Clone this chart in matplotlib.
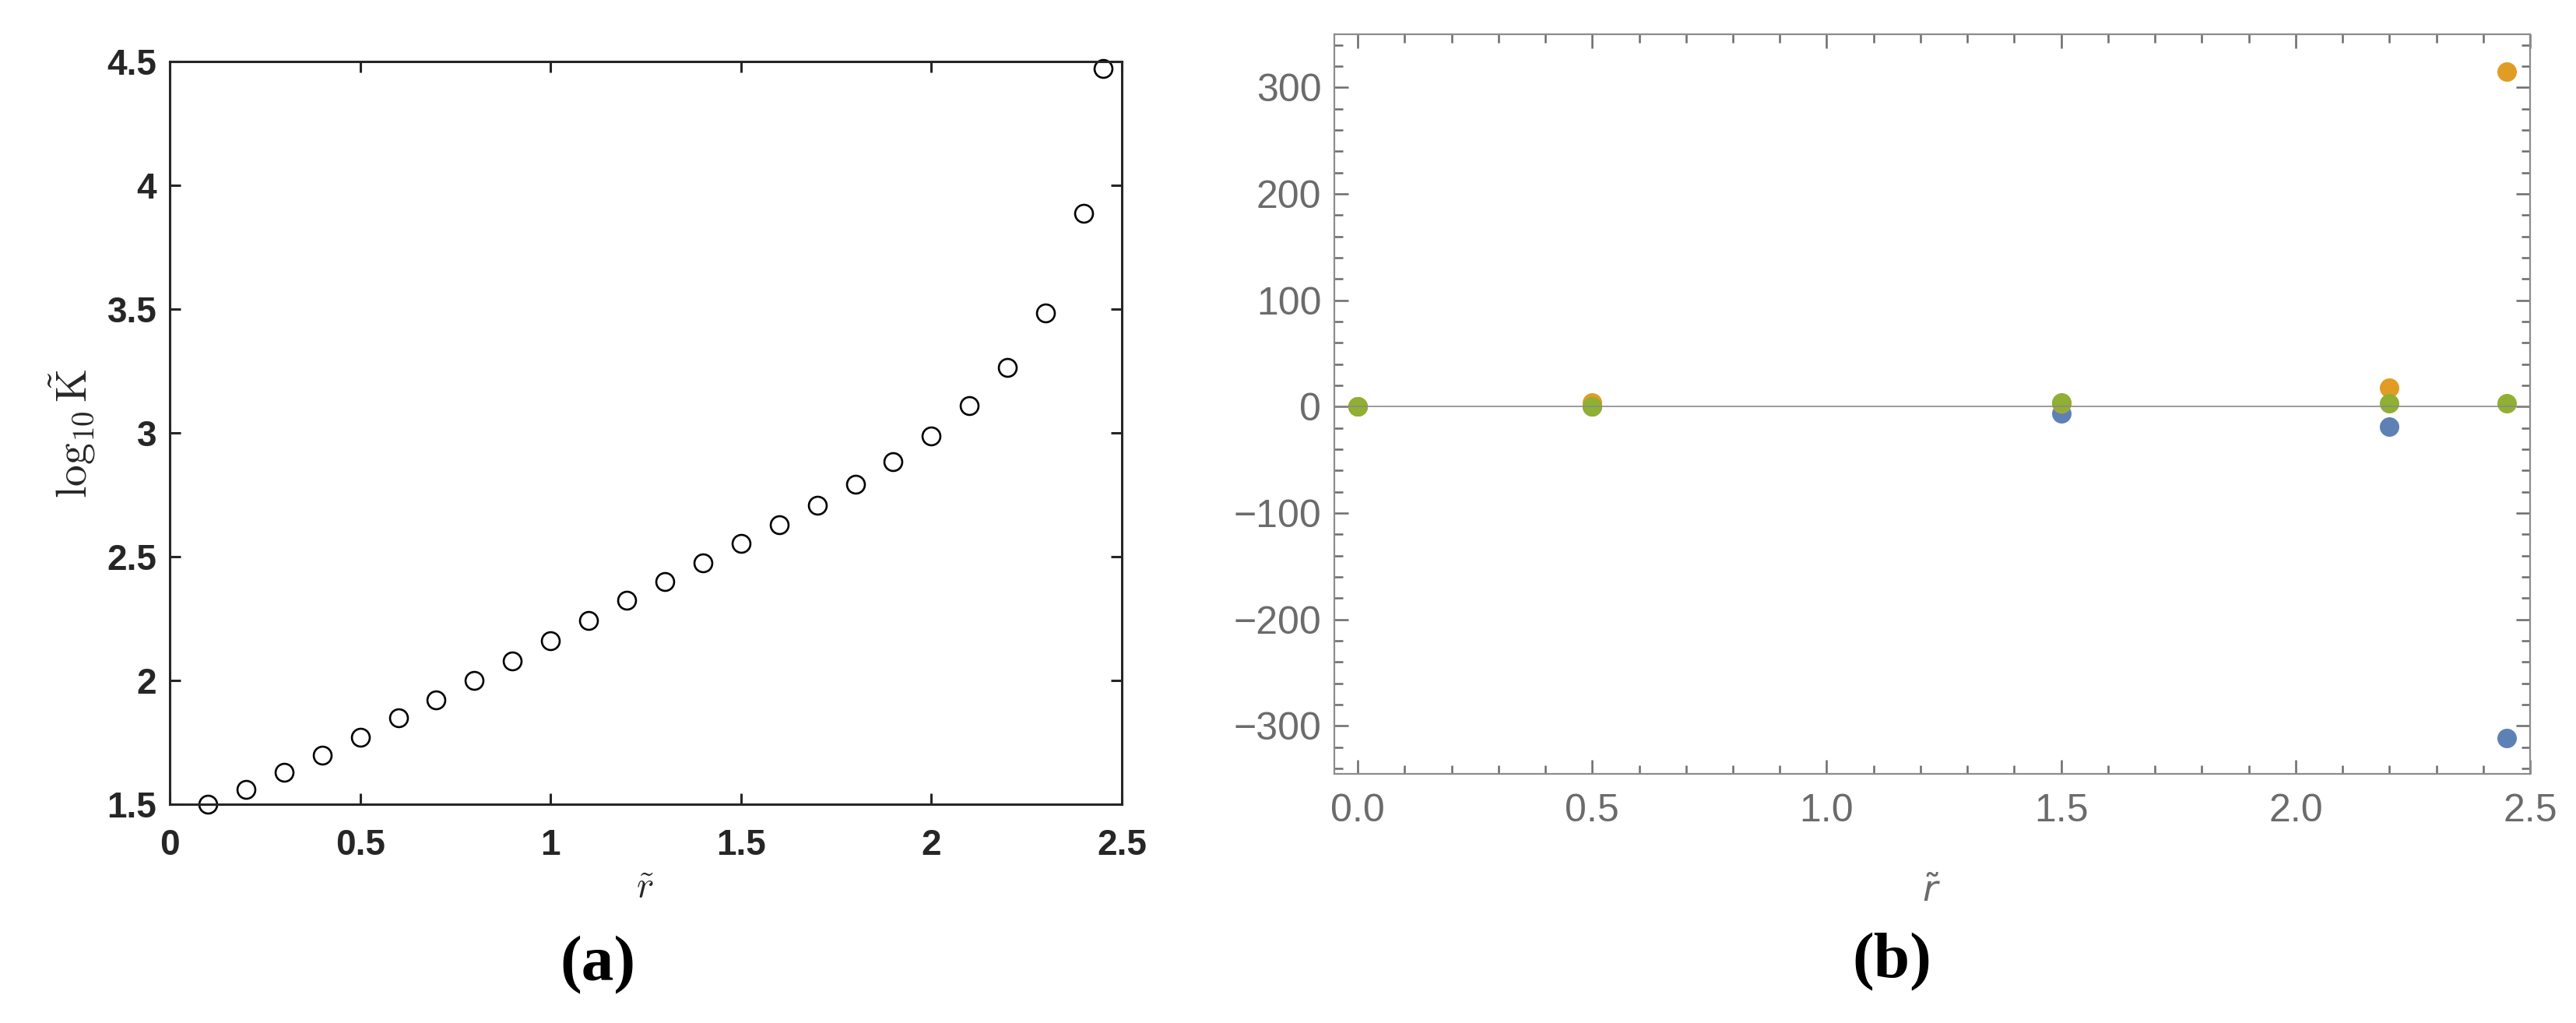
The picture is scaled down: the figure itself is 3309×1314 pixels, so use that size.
import numpy as np
import matplotlib
matplotlib.use("Agg")
import matplotlib.pyplot as plt
from matplotlib.ticker import MultipleLocator, FixedLocator

# (a) log10 K vs r
r_a = [0.1, 0.2, 0.3, 0.4, 0.5, 0.6, 0.7, 0.8, 0.9, 1.0, 1.1, 1.2, 1.3,
       1.4, 1.5, 1.6, 1.7, 1.8, 1.9, 2.0, 2.1, 2.2, 2.3, 2.4, 2.45]
logK = [1.500, 1.561, 1.629, 1.698, 1.769, 1.848, 1.922, 1.999, 2.080,
        2.160, 2.241, 2.323, 2.400, 2.476, 2.553, 2.629, 2.708, 2.793,
        2.885, 2.988, 3.109, 3.265, 3.484, 3.888, 4.471]

# (b) three series at a few r values
r_b = [0.0, 0.5, 1.5, 2.2, 2.45]
blue = [0.0, 0.0, -6.0, -18.5, -311.0]
orange = [0.0, 3.7, 3.0, 18.0, 315.0]
green = [0.0, 0.0, 3.7, 3.4, 3.4]

a_xticks = [0, 0.5, 1, 1.5, 2, 2.5]
a_xlabels = ["0", "0.5", "1", "1.5", "2", "2.5"]
a_yticks = [1.5, 2, 2.5, 3, 3.5, 4, 4.5]
a_ylabels = ["1.5", "2", "2.5", "3", "3.5", "4", "4.5"]
b_xticks = [0.0, 0.5, 1.0, 1.5, 2.0, 2.5]
b_xlabels = ["0.0", "0.5", "1.0", "1.5", "2.0", "2.5"]
b_yticks = [-300, -200, -100, 0, 100, 200, 300]
b_ylabels = ["\u2212300", "\u2212200", "\u2212100", "0", "100", "200", "300"]

W, H = 3309, 1314
fig = plt.figure(figsize=(W / 100, H / 100), dpi=100)

def box(l, r, t, b):
    return [l / W, 1 - b / H, (r - l) / W, (b - t) / H]

# ---- panel (a), matlab look
ax1 = fig.add_axes(box(218, 1441, 79, 1033))
ax1.plot(r_a, logK, 'o', mfc='none', mec='black', ms=16.5, mew=1.9, clip_on=False)
ax1.set_xlim(0, 2.5)
ax1.set_ylim(1.5, 4.5)
ax1.set_xticks(a_xticks)
ax1.set_xticklabels(a_xlabels)
ax1.set_yticks(a_yticks)
ax1.set_yticklabels(a_ylabels)
dark = '#262626'
for s in ax1.spines.values():
    s.set_linewidth(2.2)
    s.set_color(dark)
ax1.tick_params(direction='in', length=10, width=2.2, color=dark,
                top=True, right=True, labelcolor=dark)
ax1.tick_params(axis='x', pad=22)
ax1.tick_params(axis='y', pad=12)
for lab in ax1.get_xticklabels() + ax1.get_yticklabels():
    lab.set_fontfamily(['Liberation Sans', 'DejaVu Sans'])
    lab.set_fontweight('bold')
    lab.set_fontsize(33)
fig.text(829 / W, 1 - 1140 / H, r'$\tilde{r}$', fontsize=34, math_fontfamily='cm',
         ha='center', va='center', color=dark)
fig.text(93 / W, 1 - 557 / H, r'$\log_{10}\tilde{\mathrm{K}}$', fontsize=40,
         math_fontfamily='cm', rotation=90, ha='center', va='center', color=dark)

# ---- panel (b), mathematica look
gray = '#6b6b6b'
ax2 = fig.add_axes(box(1714, 3250, 44, 994))
ax2.axhline(0, color='#8a8a8a', lw=1.2, zorder=5)
ax2.plot(r_b, blue, 'o', color='#5E81B5', ms=18, mew=0, zorder=3, clip_on=False)
ax2.plot(r_b, orange, 'o', color='#E19C24', ms=18, mew=0, zorder=3, clip_on=False)
ax2.plot(r_b, green, 'o', color='#8FB032', ms=18, mew=0, zorder=4, clip_on=False)
ax2.set_xlim(-0.05, 2.5)
ax2.set_ylim(-345, 350)
ax2.xaxis.set_major_locator(FixedLocator(b_xticks))
ax2.set_xticklabels(b_xlabels)
ax2.xaxis.set_minor_locator(MultipleLocator(0.1))
ax2.yaxis.set_major_locator(FixedLocator(b_yticks))
ax2.set_yticklabels(b_ylabels)
ax2.yaxis.set_minor_locator(MultipleLocator(20))
for s in ax2.spines.values():
    s.set_linewidth(1.6)
    s.set_color('#8c8c8c')
ax2.tick_params(which='both', direction='in', color=gray, width=1.8,
                top=True, right=True, labelcolor=gray)
ax2.tick_params(which='major', length=13)
ax2.tick_params(which='minor', length=8)
ax2.tick_params(axis='x', pad=18)
ax2.tick_params(axis='y', pad=12)
for lab in ax2.get_xticklabels() + ax2.get_yticklabels():
    lab.set_fontfamily(['Liberation Sans', 'DejaVu Sans'])
    lab.set_fontsize(36)
fig.text(2481 / W, 1 - 1145 / H, r'$\tilde{r}$', fontsize=34,
         math_fontfamily='dejavusans', ha='center', va='center', color=gray)

# captions
fig.text(768 / W, 1 - 1240 / H, '(a)', fontsize=60, fontweight='bold',
         family=['Liberation Serif', 'DejaVu Serif'], ha='center', va='center')
fig.text(2430 / W, 1 - 1236 / H, '(b)', fontsize=60, fontweight='bold',
         family=['Liberation Serif', 'DejaVu Serif'], ha='center', va='center')

fig.savefig('out.png', dpi=100)
